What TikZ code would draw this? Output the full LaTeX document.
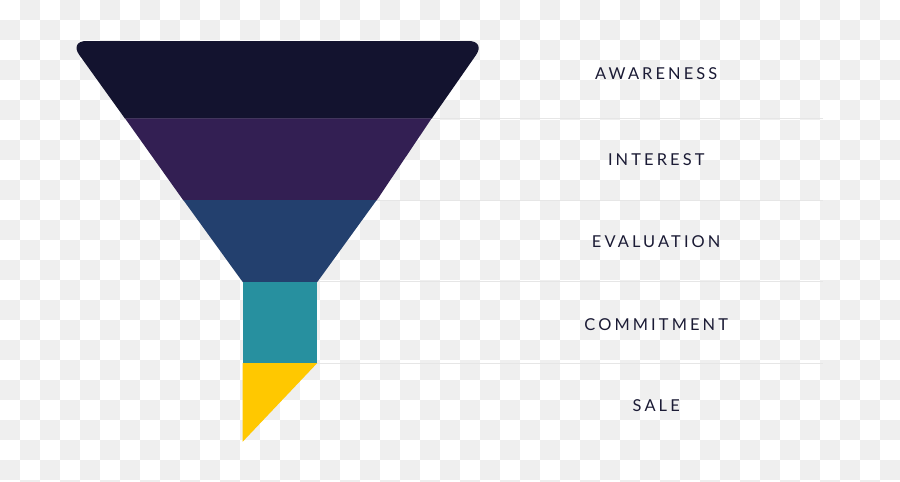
\documentclass[tikz,border=0pt]{standalone}
\usepackage{fontspec}
\newfontfamily\labfont[LetterSpace=19]{Lato}
\definecolor{chk}{HTML}{EFEFEF}
\definecolor{sepline}{HTML}{E6E6E6}
\definecolor{cA}{HTML}{13132F}
\definecolor{cB}{HTML}{331F53}
\definecolor{cC}{HTML}{23406E}
\definecolor{cD}{HTML}{27909F}
\definecolor{cE}{HTML}{FFC800}
\definecolor{txt}{HTML}{1B1B35}
\tikzset{
  lab/.style={anchor=base, inner sep=0pt, text=txt, font=\labfont\fontsize{16.4}{20}\selectfont},
  sep/.style={draw=sepline, line width=1pt}
}
\begin{document}
\begin{tikzpicture}[x=1pt,y=-1pt]
\useasboundingbox (0,0) rectangle (900,482);
\clip (0,0) rectangle (900,482);
% checkerboard background
\fill[white] (0,0) rectangle (900,482);
\foreach \i in {0,...,44}{
  \foreach \j in {0,...,24}{
    \ifodd\numexpr\i+\j\relax
      \fill[chk] (20*\i,20*\j) rectangle ++(20,20);
    \fi
  }
}
% separator lines
\coordinate (s1) at (431.7,118.3);
\coordinate (s2) at (376.7,200);
\coordinate (s3) at (317.3,281.7);
\coordinate (s4) at (317.3,363);
\coordinate (e1) at (822.7,118.3);
\coordinate (e2) at (822.7,200);
\coordinate (e3) at (822.7,281.7);
\coordinate (e4) at (822.7,363);
\draw[sep] (s1) -- (e1);
\draw[sep] (s2) -- (e2);
\draw[sep] (s3) -- (e3);
\draw[sep] (s4) -- (e4);
% funnel bands
\fill[cA] (125,118.6) [rounded corners=17pt] -- (69.3,41) -- (485.8,41) [sharp corners] -- (431.7,118.6) -- cycle;
\fill[cB] (125,118.3) -- (431.7,118.3) -- (376.7,200.3) -- (183.3,200.3) -- cycle;
\fill[cC] (183.3,200) -- (376.7,200) -- (317.3,282) -- (242.7,282) -- cycle;
\fill[cD] (242.7,281.7) rectangle (317.3,363.3);
\fill[cE] (242.7,363) -- (317.3,363) -- (242.7,441.7) -- cycle;
% labels
\node[lab] (l1) at (656.2,79) {AWARENESS};
\node[lab] (l2) at (656.2,165) {INTEREST};
\node[lab] (l3) at (656.2,247.3) {EVALUATION};
\node[lab] (l4) at (656.2,330) {COMMITMENT};
\node[lab] (l5) at (656.2,411.7) {SALE};
\end{tikzpicture}
\end{document}
